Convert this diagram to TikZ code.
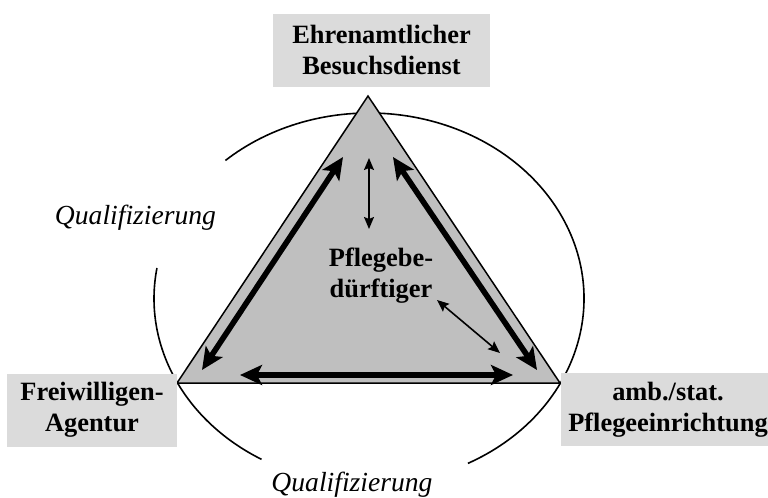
\documentclass[tikz,border=0pt]{standalone}
\usepackage{fontspec}
\setmainfont{Liberation Serif}
\usetikzlibrary{arrows.meta}
\definecolor{boxgray}{gray}{0.86}
\definecolor{trigray}{gray}{0.75}
\begin{document}
\begin{tikzpicture}[x=0.5pt,y=-0.5pt,
  lbl/.style={font=\bfseries\fontsize{13.2}{15.5}\selectfont, align=center, inner sep=0pt},
  labelbox/.style={lbl, fill=boxgray, minimum height=36.5pt},
  quali/.style={font=\itshape\fontsize{13.8}{16}\selectfont, inner sep=0pt},
  bigarrow/.style={line width=2.8pt, {Stealth[length=11pt,width=10pt,inset=2.5pt]}-{Stealth[length=11pt,width=10pt,inset=2.5pt]}},
  smallarrow/.style={line width=0.8pt, {Stealth[length=6pt,width=5pt,inset=1pt]}-{Stealth[length=6pt,width=5pt,inset=1pt]}},
  ringline/.style={line width=0.8pt}
]
\useasboundingbox (0,0) rectangle (768,498);
% ellipse arcs
\coordinate (c) at (369,298.6);
\draw[ringline] (c) ++(-62.6:107.5pt and 92.8pt) arc[start angle=-62.6, end angle=131.9, x radius=107.5pt, y radius=92.8pt];
\draw[ringline] (c) ++(170.5:107.5pt and 92.8pt) arc[start angle=170.5, end angle=240, x radius=107.5pt, y radius=92.8pt];
% triangle
\coordinate (A) at (368,96);
\coordinate (L) at (177,383);
\coordinate (R) at (560,383);
\draw[fill=trigray, line width=0.75pt] (A) -- (L) -- (R) -- cycle;
% arrow end points
\coordinate (l1) at (202,370);
\coordinate (l2) at (343,157);
\coordinate (r1) at (393,157);
\coordinate (r2) at (537,370);
\coordinate (b1) at (240,375);
\coordinate (b2) at (513,375);
\coordinate (v1) at (369,158);
\coordinate (v2) at (369,229);
\coordinate (d1) at (437,300);
\coordinate (d2) at (500,353);
\draw[bigarrow] (l1) -- (l2);
\draw[bigarrow] (r1) -- (r2);
\draw[bigarrow] (b1) -- (b2);
\draw[smallarrow] (v1) -- (v2);
\draw[smallarrow] (d1) -- (d2);
% labels
\node[lbl] (pb) at (381,276) {Pflegebe-\\dürftiger};
\node[labelbox, minimum width=108.5pt] (eb) at (381.5,50.5) {Ehrenamtlicher\\Besuchsdienst};
\node[labelbox, minimum width=85pt] (fa) at (92,410) {Freiwilligen-\\Agentur};
\node[labelbox, minimum width=107pt] (pe) at (668,409.5) {amb./stat.\\Pflegeeinrichtung};
\node[quali] (q1) at (135.5,218) {Qualifizierung};
\node[quali] (q2) at (352,485) {Qualifizierung};
\end{tikzpicture}
\end{document}
